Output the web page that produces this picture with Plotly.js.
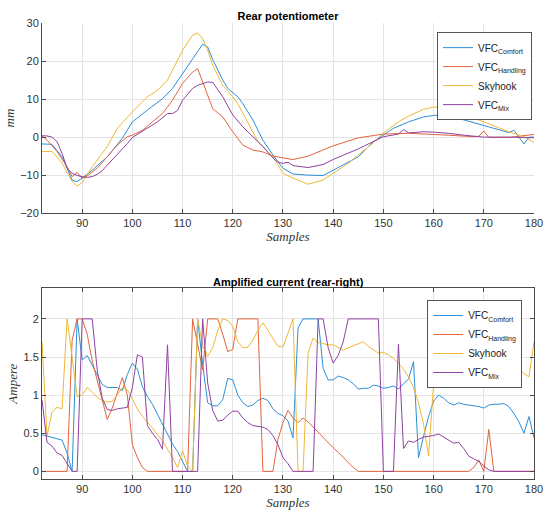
<!DOCTYPE html>
<html>
<head>
<meta charset="utf-8">
<script src="https://cdn.plot.ly/plotly-3.0.1.min.js"></script>
<style>html,body{margin:0;padding:0;background:#fff;}#chart{width:550px;height:515px;}</style>
</head>
<body>
<div id="chart"></div>
<script>
// ---------- Top plot: Rear potentiometer (mm) ----------
const potComfortX = [82,84,86,87,88,89,90,92,95,98,100,103,106,108,110,112,114,115,116,118,119,121,122,124,126,128,130,132,135,138,140,142,145,148,150,152,155,158,160,163,165,168,170,173,175,176,177,178,179,180];
const potComfortY = [-1.8,-1.9,-5.2,-8.5,-11.3,-11.7,-10.8,-8.7,-5.2,-0.3,4,7.1,10.1,12.8,16.7,20.4,24.4,23.7,20.4,15,12.8,10.6,8.8,4.5,-0.8,-4.7,-8.2,-9.7,-10,-10.1,-8.7,-7.3,-5.2,-1.2,0.5,2.3,4,5.3,5.7,5.7,4.9,3.8,2.9,2.0,1.2,1.8,0,-1.8,0,0];

const potHandlingX = [82,83,85,87,88,89,90,91,93,95,97,99,100,102,104,106,108,110,112,113,116,118,120,122,124,126,128,130,132,135,140,145,150,155,160,163,168,169,170,171,175,180];
const potHandlingY = [0.3,-0.8,-3.8,-7.8,-10.4,-9.3,-10.8,-10.2,-8.2,-5.2,-2.1,0.1,0.5,1.8,4,6.2,9.7,14.1,17.1,18,7.5,5.3,1.4,-2.1,-3.4,-3.9,-5,-5.4,-5.9,-5,-2.3,-0.2,0.8,1,0.8,0.5,0.1,0.2,1.6,-0.1,-0.1,0.7];

const potSkyhookX = [82,84,85,86,88,89,90,92,95,97,100,103,105,107,110,112,113,114,115,116,118,120,121,123,125,127,128,130,132,135,138,140,143,145,148,150,153,155,158,160,162,165,170,175,178,180];
const potSkyhookY = [-3.8,-3.8,-5.2,-6.9,-11.7,-12.9,-12,-7.8,-2.5,2.3,6.6,10.6,12.3,15,22.8,26.8,27.4,25.9,22.8,18.9,13.6,10.6,8.8,3.6,-1.2,-3.8,-5.2,-9.5,-10.8,-12.4,-11.3,-9.5,-6.9,-4.7,-1.5,1.1,4,5.5,7.3,7.9,7.8,6.6,4,1.4,0.1,-1.4];

const potMixX = [82,83,84,85,86,87,88,89,90,91,92,93,94,95,97,99,100,101,103,105,107,108,109,110,112,113,115,116,118,120,122,124,126,128,129,130,131,132,135,138,140,145,148,150,153,154,155,158,160,163,166,170,175,180];
const potMixY = [0.35,0.3,0,-1.2,-4.3,-8.2,-9.5,-10.1,-10.4,-10.6,-10.4,-9.8,-8.8,-7.4,-4.7,-1.7,-0.1,0.7,2.3,4,6.2,6.2,7,9.7,12.8,13.6,14.5,14.4,10.6,5.8,2.7,0.1,-2.5,-5.5,-6.6,-6.9,-6.6,-7.5,-8,-7.2,-5.9,-3.1,-1.2,0.1,0.8,2,1.1,1.4,1.3,1,0.5,0,0,-0.2];

// ---------- Bottom plot: Amplified current (rear-right) (A) ----------
const samples = [82,83,84,85,86,87,88,89,90,91,92,93,94,95,96,97,98,99,100,101,102,103,104,105,106,107,108,109,110,111,112,113,114,115,116,117,118,119,120,121,122,123,124,125,126,127,128,129,130,131,132,133,134,135,136,137,138,139,140,141,142,143,144,145,146,147,148,149,150,151,152,153,154,155,156,157,158,159,160,161,162,163,164,165,166,167,168,169,170,171,172,173,174,175,176,177,178,179,180];

const curComfort = [0.48,0.46,0.44,0.43,0.41,0.24,0.0,2.0,1.46,1.52,1.4,1.27,1.14,1.1,1.1,1.1,1.06,1.27,1.42,1.34,1.11,0.98,0.88,0.75,0.6,0.47,0.36,0.26,0.14,0.0,0.0,2.0,1.4,0.9,0.86,0.86,0.94,1.22,1.2,1.0,0.9,0.85,0.87,0.93,0.96,0.93,0.82,0.76,0.73,0.66,0.44,1.88,2,2,2,2,1.35,1.2,1.2,1.25,1.23,1.2,1.15,1.08,1.09,1.09,1.13,1.12,1.09,1.1,1.12,1.08,1.15,1.21,1.44,0.18,0.46,0.72,0.92,1.0,0.96,0.9,0.87,0.9,0.88,0.87,0.86,0.85,0.83,0.87,0.88,0.88,0.89,0.85,0.76,0.65,0.5,0.72,0.44];

const curHandling = [0,0,0,0,0,0,1.72,2,2,1.8,1.45,1.18,0.93,0.68,0.83,1.02,1.23,1.0,0.35,0.18,0.05,0,0,0,0,0,0,0,0,0,2,1.68,1.33,2,2,2,1.8,1.57,1.6,2,2,2,2,2,0,0,0,0.42,0.64,0.8,0.7,0.64,0.7,0.65,0.58,0.52,0.45,0.38,0.31,0.25,0.18,0.12,0.05,0,0,0,0,0,0,0,0,0,0,0,0,0,0,0,0,0,0,0,0,0,0,0,0.05,0.15,0,0.55,0,0,0,0,0,0,0,0,0];

const curSkyhook = [1.7,0.46,0.78,0.84,0.82,2.0,1.5,0.98,1.0,1.1,1.04,0.97,0.93,0.91,0.92,1.0,1.1,1.07,0.95,0.82,0.72,0.65,0.57,0.48,0.4,0.29,0.18,0.05,0.27,0.07,0.0,2.0,1.65,1.51,1.62,1.85,2.0,1.98,1.9,1.7,1.62,1.63,1.72,1.85,1.95,1.85,1.75,1.64,1.63,1.81,2.0,0,0,1.55,1.75,1.69,1.67,1.66,1.66,1.62,1.59,1.62,1.65,1.68,1.7,1.64,1.6,1.55,1.56,1.53,1.48,1.42,1.34,1.24,1.1,0.9,0.62,0.2,1.14,1.42,1.5,1.65,1.75,1.72,1.6,1.72,1.75,1.68,1.72,1.6,1.45,1.38,1.3,1.3,1.34,1.35,1.28,1.24,1.7];

const curMix = [0.94,0.38,0.33,0.24,0.21,0.11,0,0,2,2,2,1.33,0.96,0.81,0.8,0.82,0.83,0.84,1.1,1.53,1.5,0.6,0.5,0.42,0.29,1.66,0,0,0,0,0,0,2,1.16,0.8,0.66,0.67,0.74,0.79,0.79,0.7,0.64,0.6,0.59,0.58,0.55,0.47,0.35,0.18,0.1,0,0,0,0,0,2,2,1.62,1.42,1.52,1.7,2,2,2,2,2,2,2,0,0,0,1.67,0.3,0.4,0.38,0.42,0.45,0.46,0.47,0.49,0.45,0.4,0.37,0.38,0.3,0.2,0.17,0.13,0.07,0.02,0,0,0,0,0,0,0,0,0];

const seriesNames = ['VFC<sub>Comfort</sub>','VFC<sub>Handling</sub>','Skyhook','VFC<sub>Mix</sub>'];
const xTickVals = [90,100,110,120,130,140,150,160,170,180];
const potTickVals = [-20,-10,0,10,20,30];
const curTickVals = [0,0.5,1,1.5,2];
const curTickText = ['0','0.5','1','1.5','2'];

const colors = ['#2b8fd6','#e2643a','#f0b735','#8f42a3'];

const topSeries = [[potComfortX,potComfortY],[potHandlingX,potHandlingY],[potSkyhookX,potSkyhookY],[potMixX,potMixY]];
const botSeries = [curComfort,curHandling,curSkyhook,curMix];

const traces = [];
topSeries.forEach((s,i)=>{
  traces.push({x:s[0], y:s[1], type:'scatter', mode:'lines', name:seriesNames[i],
    line:{color:colors[i], width:1}, xaxis:'x', yaxis:'y', legend:'legend'});
});
botSeries.forEach((s,i)=>{
  traces.push({x:samples, y:s, type:'scatter', mode:'lines', name:seriesNames[i],
    line:{color:colors[i], width:1}, xaxis:'x2', yaxis:'y2', legend:'legend2'});
});

const tickFont = {family:'Liberation Sans, Arial, sans-serif', size:11, color:'#333'};
const labFont = {family:'Liberation Serif, DejaVu Serif, serif', size:13, color:'#333'};
const legFont = {family:'Liberation Sans, Arial, sans-serif', size:10, color:'#222'};
const axBase = {showline:true, linecolor:'#4a4a4a', linewidth:1, ticks:'inside', ticklen:4, tickcolor:'#4a4a4a',
  showgrid:true, gridcolor:'#e4e4e4', gridwidth:1, zeroline:false, tickfont:tickFont};

const layout = {
  width:550, height:515,
  margin:{l:42, r:16, t:23, b:36},
  paper_bgcolor:'#fff', plot_bgcolor:'#fff',
  showlegend:true,
  title:{text:'<b>Rear potentiometer</b>', font:{family:'Liberation Sans, Arial, sans-serif', size:11, color:'#000'},
    x:0.5, xref:'paper', xanchor:'center', y:1-16/515, yref:'container', yanchor:'middle'},
  xaxis:Object.assign({}, axBase, {domain:[0,1], anchor:'y', range:[82,180], tickvals:xTickVals, mirror:false,
    title:{text:'<i>Samples</i>', font:labFont, standoff:0}}),
  yaxis:Object.assign({}, axBase, {domain:[0.583,1], anchor:'x', range:[-20,30], tickvals:potTickVals, mirror:false,
    title:{text:'<i>mm</i>', font:labFont, standoff:2}}),
  xaxis2:Object.assign({}, axBase, {domain:[0,1], anchor:'y2', range:[82,180], tickvals:xTickVals, mirror:'ticks',
    title:{text:'<i>Samples</i>', font:labFont, standoff:0}}),
  yaxis2:Object.assign({}, axBase, {domain:[0,0.418], anchor:'x2', range:[-0.1,2.4], tickvals:curTickVals, ticktext:curTickText, mirror:'ticks',
    title:{text:'<i>Ampere</i>', font:labFont, standoff:2}}),
  legend:{x:0.996, xanchor:'right', y:0.98, yanchor:'top', bgcolor:'#fff', bordercolor:'#555', borderwidth:1,
    font:legFont, tracegroupgap:0},
  legend2:{x:0.976, xanchor:'right', y:0.3925, yanchor:'top', bgcolor:'#fff', bordercolor:'#555', borderwidth:1,
    font:legFont, tracegroupgap:0},
  annotations:[{text:'<b>Amplified current (rear-right)</b>', xref:'paper', yref:'paper', x:0.5, xanchor:'center',
    y:0.432, yanchor:'middle', showarrow:false, font:{family:'Liberation Sans, Arial, sans-serif', size:11, color:'#000'}}]
};

Plotly.newPlot('chart', traces, layout, {staticPlot:true, displayModeBar:false});
</script>
</body>
</html>
